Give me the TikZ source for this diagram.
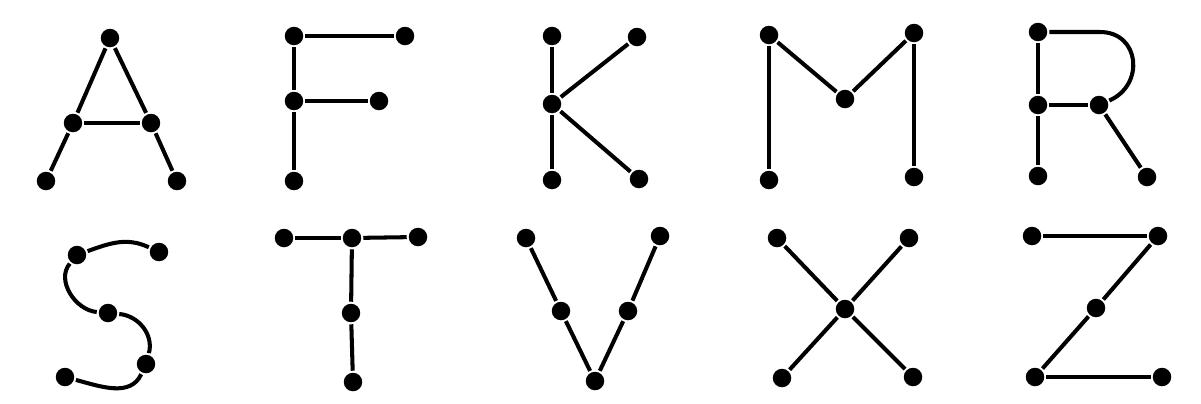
\documentclass[tikz,border=0pt]{standalone}
\tikzset{punto/.style={circle, fill, inner sep=0pt, minimum size=0.37cm}}
\begin{document}
\begin{tikzpicture}[x=0.02cm, y=-0.02cm, line width=2.3pt]
\useasboundingbox (0, 0) rectangle (1201, 403);
\node[punto] (auno) at (110, 38) {};
\node[punto] (ados) at (73, 123) {};
\node[punto] (atres) at (151, 123) {};
\node[punto] (acuatro) at (46, 181) {};
\node[punto] (acinco) at (177, 181) {};
\draw (auno) -- (ados);
\draw (auno) -- (atres);
\draw (ados) -- (atres);
\draw (ados) -- (acuatro);
\draw (atres) -- (acinco);
\node[punto] (funo) at (294, 36) {};
\node[punto] (fdos) at (405, 36) {};
\node[punto] (ftres) at (294, 101) {};
\node[punto] (fcuatro) at (379, 101) {};
\node[punto] (fcinco) at (294, 181) {};
\draw (funo) -- (fdos);
\draw (funo) -- (ftres);
\draw (ftres) -- (fcuatro);
\draw (ftres) -- (fcinco);
\node[punto] (kuno) at (552, 36) {};
\node[punto] (kdos) at (637, 37) {};
\node[punto] (ktres) at (552, 104) {};
\node[punto] (kcuatro) at (552, 180) {};
\node[punto] (kcinco) at (639, 179) {};
\draw (kuno) -- (ktres);
\draw (kdos) -- (ktres);
\draw (ktres) -- (kcuatro);
\draw (ktres) -- (kcinco);
\node[punto] (muno) at (769, 35) {};
\node[punto] (mdos) at (914, 33) {};
\node[punto] (mtres) at (845, 99) {};
\node[punto] (mcuatro) at (769, 180) {};
\node[punto] (mcinco) at (914, 177) {};
\draw (muno) -- (mcuatro);
\draw (muno) -- (mtres);
\draw (mtres) -- (mdos);
\draw (mdos) -- (mcinco);
\node[punto] (runo) at (1038, 32) {};
\node[punto] (rdos) at (1038, 105) {};
\node[punto] (rtres) at (1099, 105) {};
\node[punto] (rcuatro) at (1038, 176) {};
\node[punto] (rcinco) at (1147, 177) {};
\coordinate (rcurva) at (1100, 32);
\draw (runo) -- (rdos);
\draw (rdos) -- (rcuatro);
\draw (rdos) -- (rtres);
\draw (rtres) -- (rcinco);
\draw (runo) -- (rcurva) .. controls (1140, 32) and (1145, 85) .. (rtres);
\node[punto] (suno) at (159, 252) {};
\node[punto] (sdos) at (77, 255) {};
\node[punto] (stres) at (108, 313) {};
\node[punto] (scuatro) at (146, 364) {};
\node[punto] (scinco) at (65, 377) {};
\draw (suno) to[out=155, in=20] (sdos);
\draw (sdos) to[out=230, in=175] (stres);
\draw (stres) to[out=-5, in=75] (scuatro);
\draw (scuatro) to[out=245, in=-15] (scinco);
\node[punto] (tuno) at (284, 238) {};
\node[punto] (tdos) at (352, 238) {};
\node[punto] (ttres) at (418, 237) {};
\node[punto] (tcuatro) at (351, 313) {};
\node[punto] (tcinco) at (353, 382) {};
\draw (tuno) -- (tdos);
\draw (tdos) -- (ttres);
\draw (tdos) -- (tcuatro);
\draw (tcuatro) -- (tcinco);
\node[punto] (vuno) at (526, 238) {};
\node[punto] (vdos) at (660, 236) {};
\node[punto] (vtres) at (561, 311) {};
\node[punto] (vcuatro) at (628, 311) {};
\node[punto] (vcinco) at (595, 381) {};
\draw (vuno) -- (vtres);
\draw (vtres) -- (vcinco);
\draw (vdos) -- (vcuatro);
\draw (vcuatro) -- (vcinco);
\node[punto] (xuno) at (777, 238) {};
\node[punto] (xdos) at (909, 238) {};
\node[punto] (xtres) at (845, 309) {};
\node[punto] (xcuatro) at (782, 378) {};
\node[punto] (xcinco) at (913, 377) {};
\draw (xuno) -- (xtres);
\draw (xdos) -- (xtres);
\draw (xtres) -- (xcuatro);
\draw (xtres) -- (xcinco);
\node[punto] (zuno) at (1032, 236) {};
\node[punto] (zdos) at (1158, 236) {};
\node[punto] (ztres) at (1096, 308) {};
\node[punto] (zcuatro) at (1035, 377) {};
\node[punto] (zcinco) at (1162, 377) {};
\draw (zuno) -- (zdos);
\draw (zdos) -- (ztres);
\draw (ztres) -- (zcuatro);
\draw (zcuatro) -- (zcinco);
\end{tikzpicture}
\end{document}
